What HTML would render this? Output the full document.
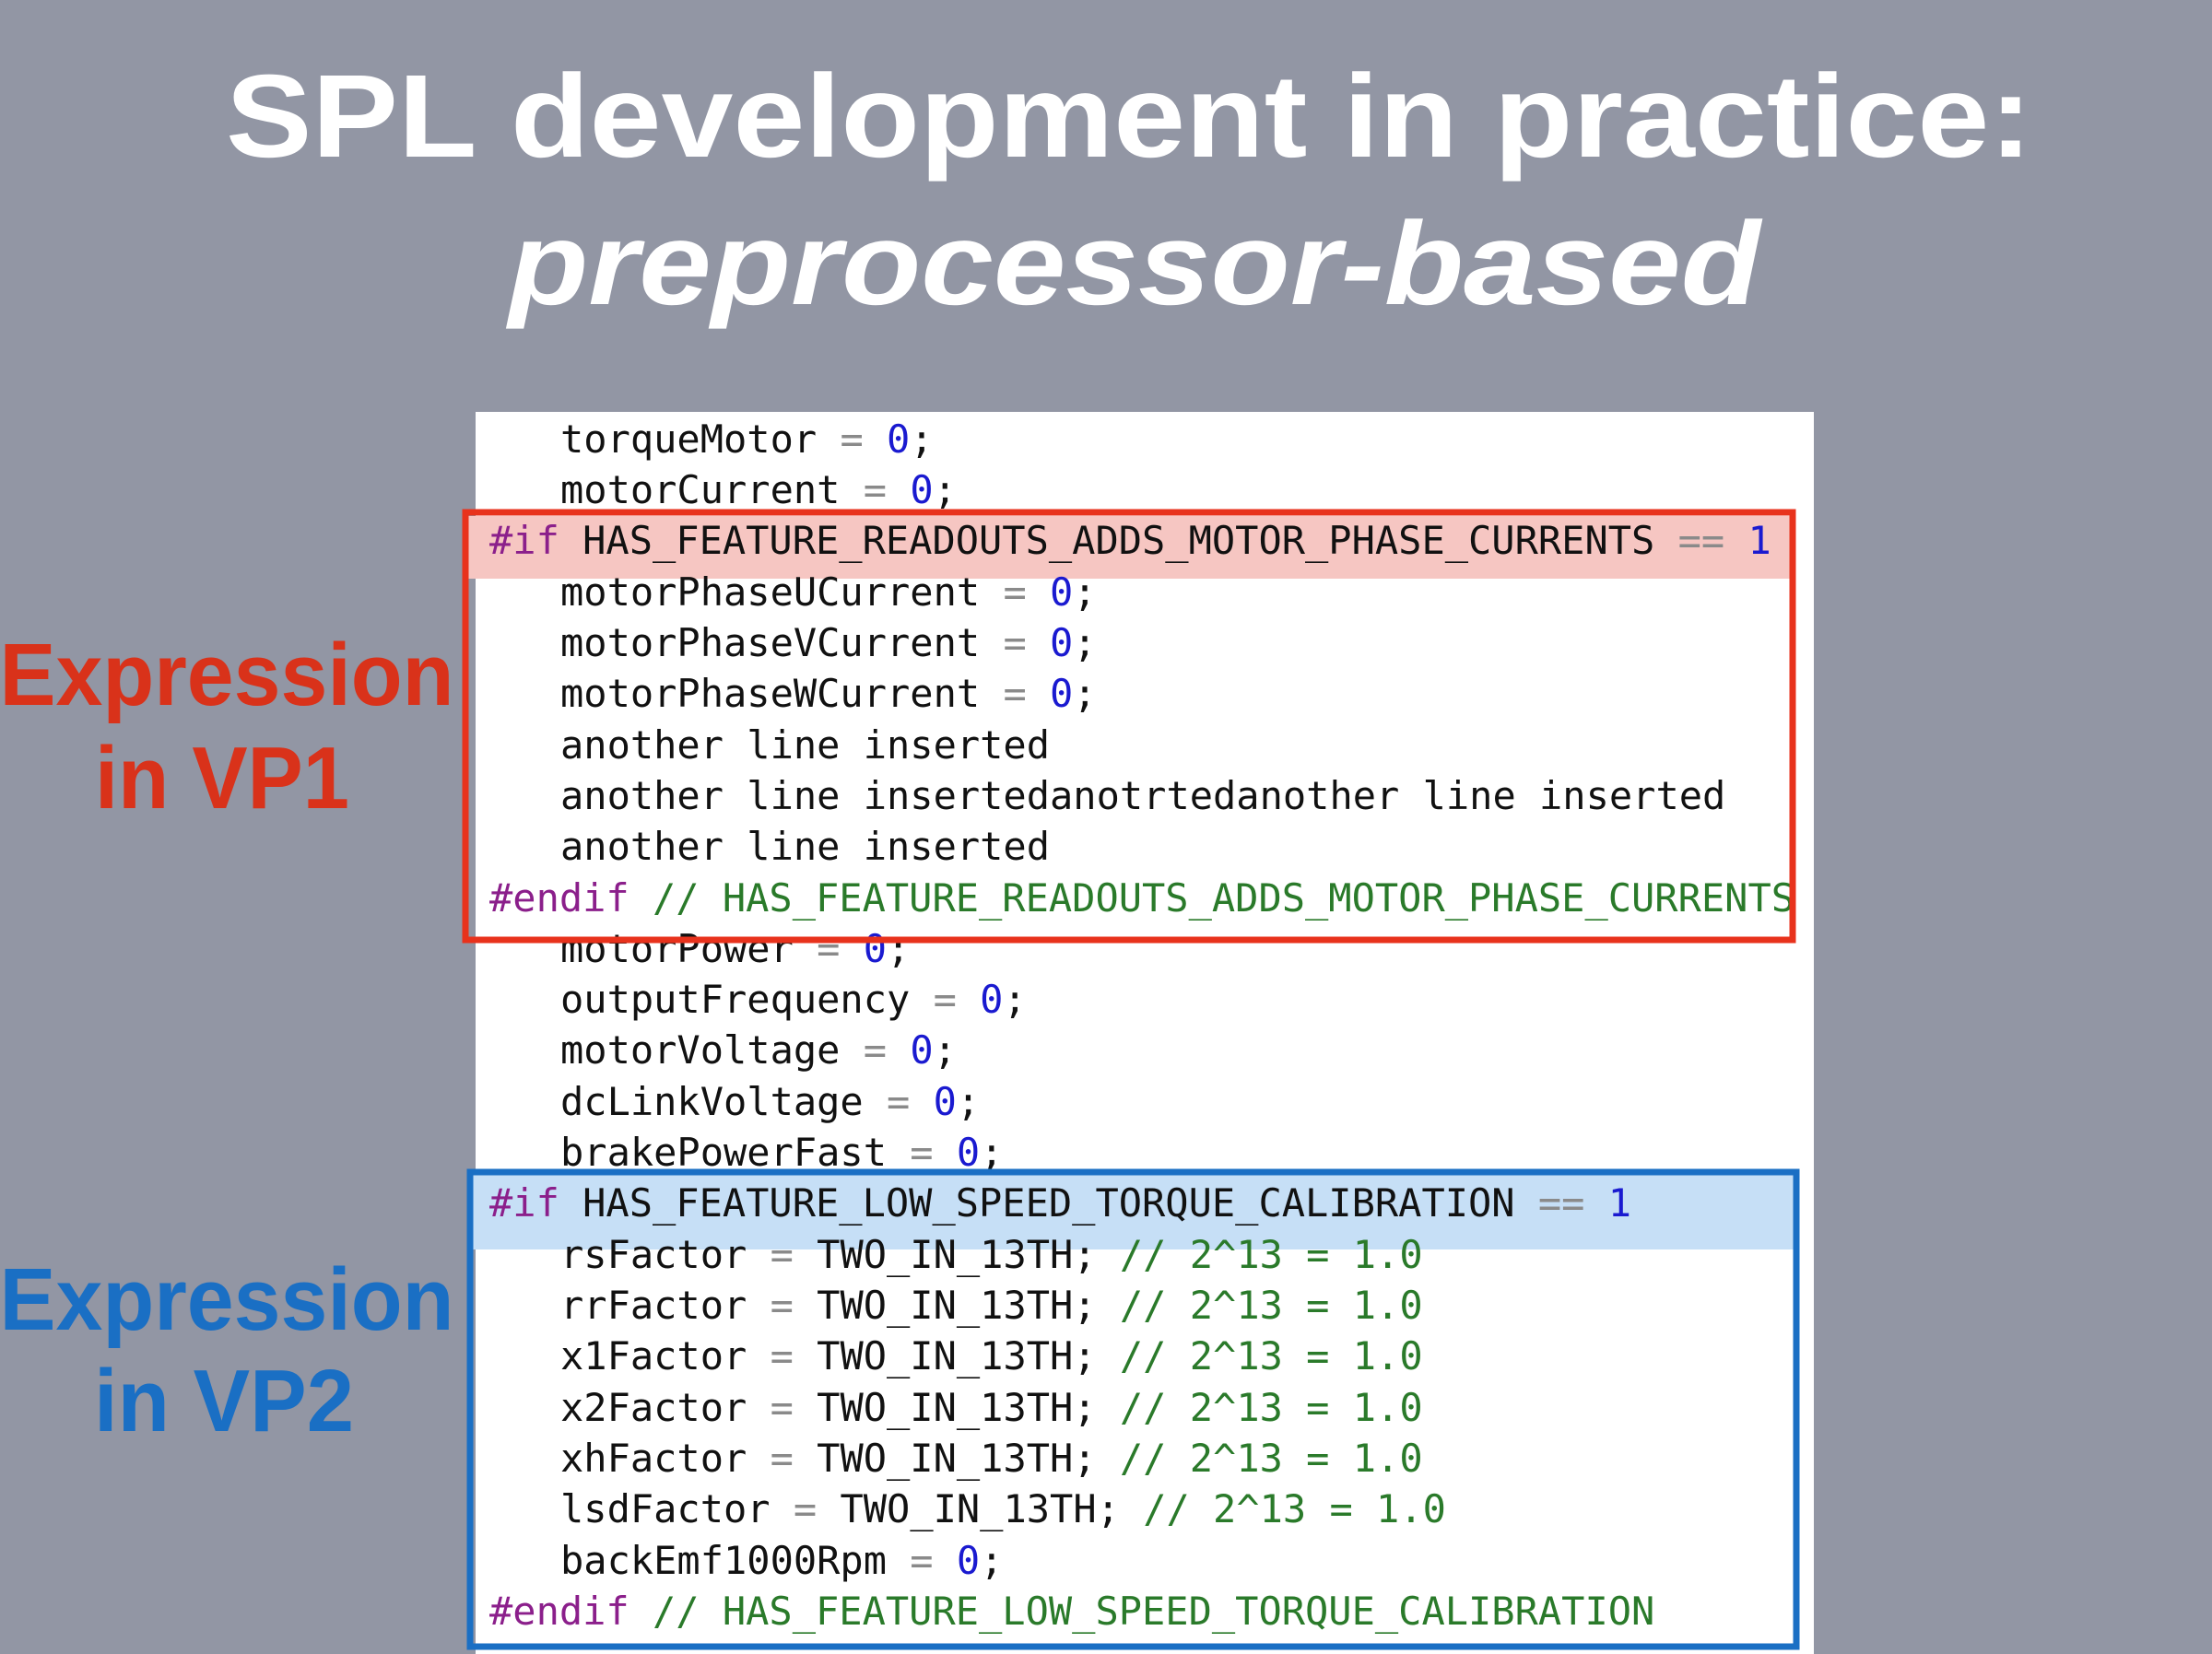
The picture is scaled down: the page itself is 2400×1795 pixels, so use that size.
<!DOCTYPE html>
<html><head><meta charset="utf-8"><style>
html,body{margin:0;padding:0;background:#9296a4;}
svg{display:block}
.c{font-family:"DejaVu Sans Mono","Liberation Mono",monospace;font-size:42px;fill:#111}
.g{fill:#8a8a8a}.n{fill:#1a1ad0}.p{fill:#8b1f8b}.m{fill:#2a7a2a}
</style></head><body>
<svg width="2400" height="1795" viewBox="0 0 2400 1795" xmlns="http://www.w3.org/2000/svg">
<rect width="2400" height="1795" fill="#9296a4"/>
<text x="1225" y="170" text-anchor="middle" font-family="Liberation Sans, sans-serif" font-weight="bold" font-size="128" fill="#fff" textLength="1960" lengthAdjust="spacingAndGlyphs">SPL development in practice:</text>
<text x="1231" y="330" text-anchor="middle" font-family="Liberation Sans, sans-serif" font-weight="bold" font-style="italic" font-size="128" fill="#fff" textLength="1358" lengthAdjust="spacingAndGlyphs">preprocessor-based</text>
<text x="246" y="765" text-anchor="middle" font-family="Liberation Sans, sans-serif" font-weight="bold" font-size="96" fill="#d9321a" textLength="493" lengthAdjust="spacingAndGlyphs">Expression</text>
<text x="241" y="877" text-anchor="middle" font-family="Liberation Sans, sans-serif" font-weight="bold" font-size="96" fill="#d9321a" textLength="276" lengthAdjust="spacingAndGlyphs">in VP1</text>
<text x="246" y="1443" text-anchor="middle" font-family="Liberation Sans, sans-serif" font-weight="bold" font-size="96" fill="#1a6fc4" textLength="493" lengthAdjust="spacingAndGlyphs">Expression</text>
<text x="243" y="1553" text-anchor="middle" font-family="Liberation Sans, sans-serif" font-weight="bold" font-size="96" fill="#1a6fc4" textLength="282" lengthAdjust="spacingAndGlyphs">in VP2</text>
<rect x="516" y="447" width="1452" height="1348" fill="#fff"/>
<rect x="506" y="560" width="1438" height="68" fill="#f6c6c2"/>
<rect x="510" y="1275" width="1438" height="81" fill="#c6dff6"/>
<defs><clipPath id="cp"><rect x="516" y="447" width="1426" height="1348"/></clipPath></defs>
<g class="c" clip-path="url(#cp)" xml:space="preserve">
<text x="608" y="491">torqueMotor <tspan class="g">=</tspan> <tspan class="n">0</tspan>;</text>
<text x="608" y="546">motorCurrent <tspan class="g">=</tspan> <tspan class="n">0</tspan>;</text>
<text x="531" y="601"><tspan class="p">#if</tspan> HAS_FEATURE_READOUTS_ADDS_MOTOR_PHASE_CURRENTS <tspan class="g">==</tspan> <tspan class="n">1</tspan></text>
<text x="608" y="657">motorPhaseUCurrent <tspan class="g">=</tspan> <tspan class="n">0</tspan>;</text>
<text x="608" y="712">motorPhaseVCurrent <tspan class="g">=</tspan> <tspan class="n">0</tspan>;</text>
<text x="608" y="767">motorPhaseWCurrent <tspan class="g">=</tspan> <tspan class="n">0</tspan>;</text>
<text x="608" y="823">another line inserted</text>
<text x="608" y="878">another line insertedanotrtedanother line inserted</text>
<text x="608" y="933">another line inserted</text>
<text x="531" y="989"><tspan class="p">#endif</tspan><tspan class="m"> // HAS_FEATURE_READOUTS_ADDS_MOTOR_PHASE_CURRENTS</tspan></text>
<text x="608" y="1044">motorPower <tspan class="g">=</tspan> <tspan class="n">0</tspan>;</text>
<text x="608" y="1099">outputFrequency <tspan class="g">=</tspan> <tspan class="n">0</tspan>;</text>
<text x="608" y="1154">motorVoltage <tspan class="g">=</tspan> <tspan class="n">0</tspan>;</text>
<text x="608" y="1210">dcLinkVoltage <tspan class="g">=</tspan> <tspan class="n">0</tspan>;</text>
<text x="608" y="1265">brakePowerFast <tspan class="g">=</tspan> <tspan class="n">0</tspan>;</text>
<text x="531" y="1320"><tspan class="p">#if</tspan> HAS_FEATURE_LOW_SPEED_TORQUE_CALIBRATION <tspan class="g">==</tspan> <tspan class="n">1</tspan></text>
<text x="608" y="1376">rsFactor <tspan class="g">=</tspan> TWO_IN_13TH; <tspan class="m">// 2^13 = 1.0</tspan></text>
<text x="608" y="1431">rrFactor <tspan class="g">=</tspan> TWO_IN_13TH; <tspan class="m">// 2^13 = 1.0</tspan></text>
<text x="608" y="1486">x1Factor <tspan class="g">=</tspan> TWO_IN_13TH; <tspan class="m">// 2^13 = 1.0</tspan></text>
<text x="608" y="1542">x2Factor <tspan class="g">=</tspan> TWO_IN_13TH; <tspan class="m">// 2^13 = 1.0</tspan></text>
<text x="608" y="1597">xhFactor <tspan class="g">=</tspan> TWO_IN_13TH; <tspan class="m">// 2^13 = 1.0</tspan></text>
<text x="608" y="1652">lsdFactor <tspan class="g">=</tspan> TWO_IN_13TH; <tspan class="m">// 2^13 = 1.0</tspan></text>
<text x="608" y="1708">backEmf1000Rpm <tspan class="g">=</tspan> <tspan class="n">0</tspan>;</text>
<text x="531" y="1763"><tspan class="p">#endif</tspan><tspan class="m"> // HAS_FEATURE_LOW_SPEED_TORQUE_CALIBRATION</tspan></text>
</g>
<rect x="505" y="556" width="1440" height="464" fill="none" stroke="#e8321c" stroke-width="7"/>
<rect x="510" y="1272" width="1439" height="515" fill="none" stroke="#1a6fc4" stroke-width="7"/>
</svg>
</body></html>
